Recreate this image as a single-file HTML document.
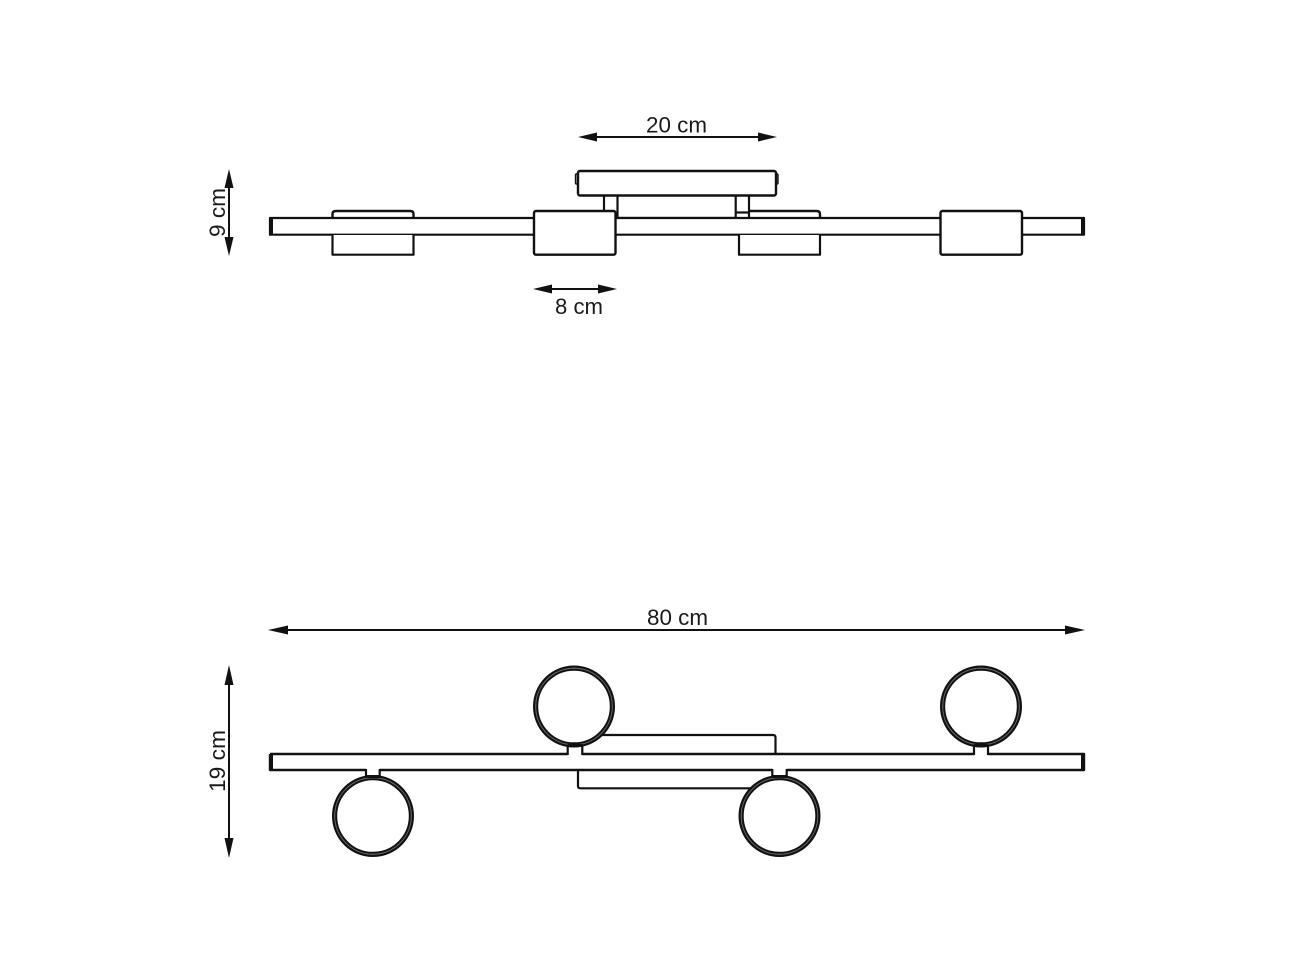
<!DOCTYPE html>
<html>
<head>
<meta charset="utf-8">
<style>
html,body{margin:0;padding:0;background:#fff;width:1294px;height:970px;overflow:hidden}
svg{display:block}
text{font-family:"Liberation Sans",sans-serif;font-size:22.500px;fill:#1a1a1a}
</style>
</head>
<body>
<svg width="1294" height="970" viewBox="0 0 1294 970" xmlns="http://www.w3.org/2000/svg">
<defs>
<g id="ring">
  <circle r="39.8" fill="#fff" stroke="#111" stroke-width="2.400"/>
  <circle r="38.2" fill="none" stroke="#666" stroke-width="1.200"/>
  <circle r="36.8" fill="#fff" stroke="#111" stroke-width="2"/>
</g>
</defs>
<g fill="none" stroke="#111" stroke-width="2.200" stroke-linejoin="round">
  <!-- TOP VIEW -->
  <path d="M332.500 218V214Q332.500 211 336 211H410Q413.500 211 413.500 214V218" stroke-width="2.400"/>
  <path d="M749 211H816.500Q820 211 820 214V218" stroke-width="2.400"/>
  <rect x="575.500" y="174" width="3" height="10" rx="1" fill="#bbb" stroke-width="1.400"/>
  <rect x="775" y="174" width="3" height="10" rx="1" fill="#bbb" stroke-width="1.400"/>
  <rect x="578" y="171" width="198" height="24.500" rx="2" fill="#fff" stroke-width="2.400"/>
  <path d="M604 195.500V211"/>
  <path d="M617.500 195.500V218H735.700V195.500"/>
  <path d="M735.700 212.500H749"/>
  <path d="M749 195.500V218"/>
  <rect x="270" y="218" width="814" height="16.700" fill="#fff"/>
  <path d="M271 218V235M1083 218V235" stroke-width="4"/>
  <path d="M332.500 235V254.700H413.500V235" fill="#fff"/>
  <path d="M739 235V254.700H820V235" fill="#fff"/>
  <rect x="534" y="211" width="81.500" height="43.700" rx="2" fill="#fff" stroke-width="2.400"/>
  <rect x="940.500" y="211" width="81.500" height="43.700" rx="2" fill="#fff" stroke-width="2.400"/>

  <!-- BOTTOM VIEW -->
  <path d="M600 735H773Q775.500 735 775.500 737.500V754"/>
  <path d="M578 770V786Q578 788.300 580.500 788.300H752"/>
  <path d="M270 754H567.700M582.300 754H974M988 754H1084V770H786.700M772.300 770H379.700M366 770H270V754" stroke-width="2.400"/>
  <path d="M271 754V770M1083 754V770" stroke-width="4"/>
</g>
<use href="#ring" x="373" y="816"/>
<use href="#ring" x="779.500" y="816"/>
<use href="#ring" x="574" y="706.500"/>
<use href="#ring" x="981" y="706.500"/>
<g fill="none" stroke="#111" stroke-width="2.200">
  <path d="M567.700 746V755M582.300 746V755M974 746V755M988 746V755M366 769V777M379.700 769V777M772.300 769V777M786.700 769V777"/>
  <path d="M567.700 745.500H582.300M974 745.500H988M366 776.500H379.700M772.300 776.500H786.700" stroke-width="3"/>
</g>
<g stroke="#111" stroke-width="2" fill="none">
  <path d="M590 137H765M545 289H605M280 630H1074M229 181V244M229 678V846"/>
</g>
<g fill="#111">
  <path d="M578 137L597 132.500V141.500ZM777 137L758 132.500V141.500Z"/>
  <path d="M533 289L552 284.500V293.500ZM617 289L598 284.500V293.500Z"/>
  <path d="M268 630L288 625.500V634.500ZM1085 630L1065 625.500V634.500Z"/>
  <path d="M229 169L224.500 188H233.500ZM229 256L224.500 237H233.500Z"/>
  <path d="M229 665L224.500 685H233.500ZM229 858L224.500 838H233.500Z"/>
</g>
<text x="646" y="132.500" textLength="61" lengthAdjust="spacingAndGlyphs">20 cm</text>
<text x="555" y="314" textLength="48" lengthAdjust="spacingAndGlyphs">8 cm</text>
<text x="647" y="625" textLength="61" lengthAdjust="spacingAndGlyphs">80 cm</text>
<text transform="translate(225 237) rotate(-90)" textLength="49" lengthAdjust="spacingAndGlyphs">9 cm</text>
<text transform="translate(225 792) rotate(-90)" textLength="62" lengthAdjust="spacingAndGlyphs">19 cm</text>
</svg>
</body>
</html>
